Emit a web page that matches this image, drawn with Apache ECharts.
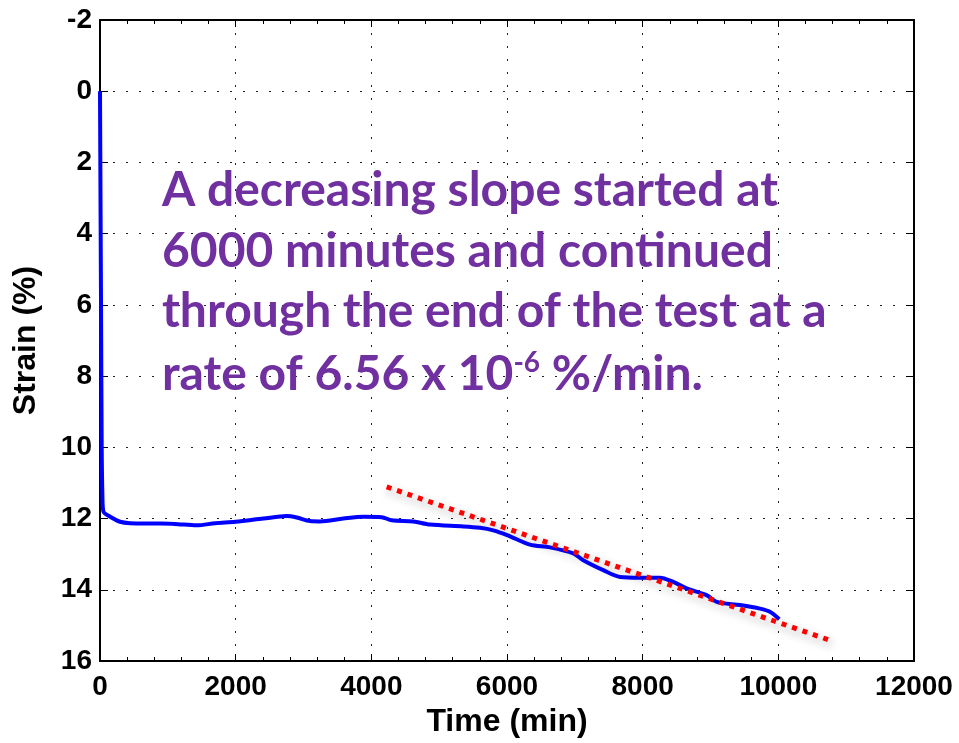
<!DOCTYPE html>
<html>
<head>
<meta charset="utf-8">
<script src="https://cdn.jsdelivr.net/npm/echarts@6/dist/echarts.min.js"></script>
<style>
html,body{margin:0;padding:0;background:#fff;}
#chart{width:959px;height:743px;}
</style>
</head>
<body>
<div id="chart"></div>
<script>
// ---- data ----
var timeMin = [0, 15, 25, 35, 49, 150, 295, 442, 800, 1100, 1425, 1700, 2000, 2408, 2752, 2899, 3096, 3243, 3587, 3882, 4152, 4300, 4619, 4864, 5356, 5602, 5798, 6010, 6338, 6633, 6977, 7124, 7419, 7665, 7960, 8254, 8451, 8647, 8942, 9090, 9434, 9729, 9876, 10013];
var strainPct = [0, 6, 10, 11.3, 11.8, 11.95, 12.09, 12.13, 12.14, 12.15, 12.19, 12.13, 12.09, 12.0, 11.93, 11.97, 12.07, 12.08, 12.0, 11.95, 11.96, 12.05, 12.08, 12.17, 12.22, 12.26, 12.33, 12.47, 12.73, 12.81, 12.98, 13.17, 13.45, 13.64, 13.66, 13.66, 13.78, 13.96, 14.15, 14.34, 14.43, 14.53, 14.62, 14.83];
var fitTime = [4226, 10762];
var fitStrain = [11.11, 15.42];
var xTicks = [0, 2000, 4000, 6000, 8000, 10000, 12000];
var yTicks = [-2, 0, 2, 4, 6, 8, 10, 12, 14, 16];
var noteLines = [
  'A decreasing slope started at',
  '6000 minutes and continued',
  'through the end of the test at a',
  ['rate of 6.56 x 10', '-6', ' %/min.']
];

var blueData = timeMin.map(function (t, i) { return [t, strainPct[i]]; });
var fitData = fitTime.map(function (t, i) { return [t, fitStrain[i]]; });

var chart = echarts.init(document.getElementById('chart'), null, {renderer: 'canvas'});
var labelFont = {fontFamily: 'Liberation Sans', fontWeight: 'bold', fontSize: 28, color: '#000',
  formatter: function (v) { return String(v); }};
var axisLineStyle = {show: true, onZero: false, lineStyle: {color: '#000', width: 2}};
var gridLine = {show: true, lineStyle: {color: '#222', width: 1, type: [2, 11]}};

var noteFont = 'Lato';
var noteColor = '#7030A0';
var noteSize = 48;
var noteGraphics = [];
var baseY = [197, 258, 318, 379];
for (var i = 0; i < 3; i++) {
  noteGraphics.push({
    type: 'text', left: 162, top: baseY[i] - 30, z: 100,
    style: {text: noteLines[i], font: 'bold ' + noteSize + 'px ' + noteFont, fill: noteColor}
  });
}
noteGraphics.push({
  type: 'text', left: 162, top: baseY[3] - 30, z: 100,
  style: {
    text: '{a|' + noteLines[3][0] + '}{s|' + noteLines[3][1] + '}{a|' + noteLines[3][2] + '}',
    fill: noteColor,
    rich: {
      a: {fontFamily: noteFont, fontWeight: 'bold', fontSize: noteSize, fill: noteColor, color: noteColor, verticalAlign: 'bottom'},
      s: {fontFamily: noteFont, fontWeight: 'bold', fontSize: 28, fill: noteColor, color: noteColor, verticalAlign: 'bottom', padding: [0, 0, 22, 0]}
    }
  }
});

chart.setOption({
  animation: false,
  backgroundColor: '#fff',
  grid: {left: 100, right: 45, top: 20, bottom: 82, containLabel: false},
  xAxis: [{
    type: 'value', min: xTicks[0], max: xTicks[xTicks.length - 1], interval: 2000,
    position: 'bottom',
    name: 'Time (min)', nameLocation: 'middle', nameGap: 45,
    nameTextStyle: {fontFamily: 'Liberation Sans', fontWeight: 'bold', fontSize: 32, color: '#000'},
    axisLine: axisLineStyle,
    axisTick: {show: true, inside: true, length: 7, lineStyle: {color: '#000', width: 1}},
    minorTick: {show: true, splitNumber: 5, length: 4, lineStyle: {color: '#000', width: 1}},
    axisLabel: Object.assign({margin: 12}, labelFont),
    splitLine: gridLine
  }, {
    type: 'value', min: xTicks[0], max: xTicks[xTicks.length - 1], interval: 2000,
    position: 'top',
    axisLine: axisLineStyle,
    axisTick: {show: true, inside: true, length: 7, lineStyle: {color: '#000', width: 1}},
    minorTick: {show: true, splitNumber: 5, length: 4, lineStyle: {color: '#000', width: 1}},
    axisLabel: {show: false},
    splitLine: {show: false}
  }],
  yAxis: [{
    type: 'value', min: yTicks[0], max: yTicks[yTicks.length - 1], interval: 2, inverse: true,
    position: 'left',
    name: 'Strain (%)', nameLocation: 'middle', nameGap: 58, nameRotate: 90,
    nameTextStyle: {fontFamily: 'Liberation Sans', fontWeight: 'bold', fontSize: 32, color: '#000'},
    axisLine: axisLineStyle,
    axisTick: {show: true, inside: true, length: 8, lineStyle: {color: '#000', width: 1}},
    axisLabel: Object.assign({margin: 8}, labelFont),
    splitLine: gridLine
  }, {
    type: 'value', min: yTicks[0], max: yTicks[yTicks.length - 1], interval: 2, inverse: true,
    position: 'right',
    axisLine: axisLineStyle,
    axisTick: {show: true, inside: true, length: 8, lineStyle: {color: '#000', width: 1}},
    axisLabel: {show: false},
    splitLine: {show: false}
  }],
  series: [{
    type: 'line', data: blueData, xAxisIndex: 0, yAxisIndex: 0,
    showSymbol: false, symbol: 'none', smooth: 0.3,
    lineStyle: {color: '#0000FF', width: 4}, z: 3
  }, {
    type: 'line', data: fitData, xAxisIndex: 0, yAxisIndex: 0,
    showSymbol: false, symbol: 'none',
    lineStyle: {color: '#FF0000', width: 5, type: [5, 6], cap: 'butt',
      shadowColor: 'rgba(0,0,0,0.35)', shadowBlur: 8, shadowOffsetX: 2, shadowOffsetY: 4}, z: 4
  }],
  graphic: noteGraphics
});
</script>
</body>
</html>
